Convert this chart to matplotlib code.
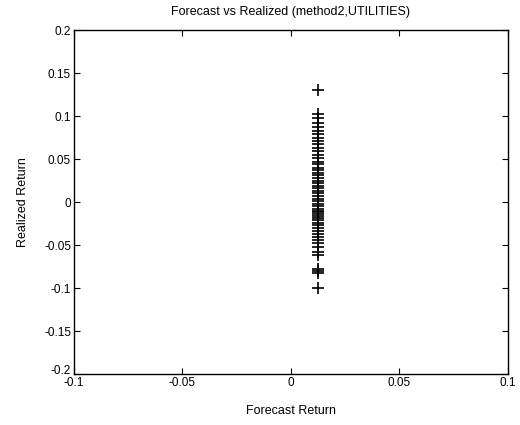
import matplotlib
matplotlib.use("Agg")
import matplotlib.pyplot as plt

# forecast is (almost) the same for every month
forecast_value = 0.0125
realized = [0.13, 0.103, 0.098, 0.092, 0.087, 0.083, 0.079, 0.075, 0.071, 0.067,
            0.063, 0.059, 0.055, 0.051, 0.047, 0.044, 0.040, 0.037, 0.034, 0.031,
            0.028, 0.025, 0.022, 0.019, 0.016, 0.013, 0.010, 0.007, 0.004, 0.001,
            -0.002, -0.005, -0.008, -0.010, -0.012, -0.014, -0.016, -0.018, -0.021,
            -0.024, -0.027, -0.030, -0.034, -0.037, -0.041, -0.044, -0.048, -0.052,
            -0.058, -0.062, -0.078, -0.080, -0.082, -0.100]
forecast = [forecast_value] * len(realized)

xticks = [-0.1, -0.05, 0, 0.05, 0.1]
xticklabels = ["-0.1", "-0.05", "0", "0.05", "0.1"]
yticks = [-0.2, -0.15, -0.1, -0.05, 0, 0.05, 0.1, 0.15, 0.2]
yticklabels = ["-0.2", "-0.15", "-0.1", "-0.05", "0", "0.05", "0.1", "0.15", "0.2"]

plt.rcParams['font.family'] = 'Liberation Sans'
plt.rcParams['font.size'] = 8.5

fig = plt.figure(figsize=(5.2, 4.25), dpi=100)
ax = fig.add_axes([0.142, 0.12, 0.835, 0.809])
ax.plot(forecast, realized, '+', color='k', markersize=9, markeredgewidth=1.2)

ax.set_xlim(-0.1, 0.1)
ax.set_ylim(-0.2, 0.2)
ax.set_xticks(xticks)
ax.set_xticklabels(xticklabels)
ax.set_yticks(yticks)
ax.set_yticklabels(yticklabels)
ax.tick_params(direction='in', top=True, right=True, length=4, width=0.8, pad=2)
# bottom y label sits a bit higher, like the original
ax.get_yticklabels()[0].set_verticalalignment('baseline')
for s in ax.spines.values():
    s.set_linewidth(1.0)

ax.set_title("Forecast vs Realized (method2,UTILITIES)", fontsize=9, pad=11)
ax.set_xlabel("Forecast Return", fontsize=9, labelpad=12)
ax.set_ylabel("Realized Return", fontsize=9, labelpad=11)

fig.savefig("out.png", dpi=100)
